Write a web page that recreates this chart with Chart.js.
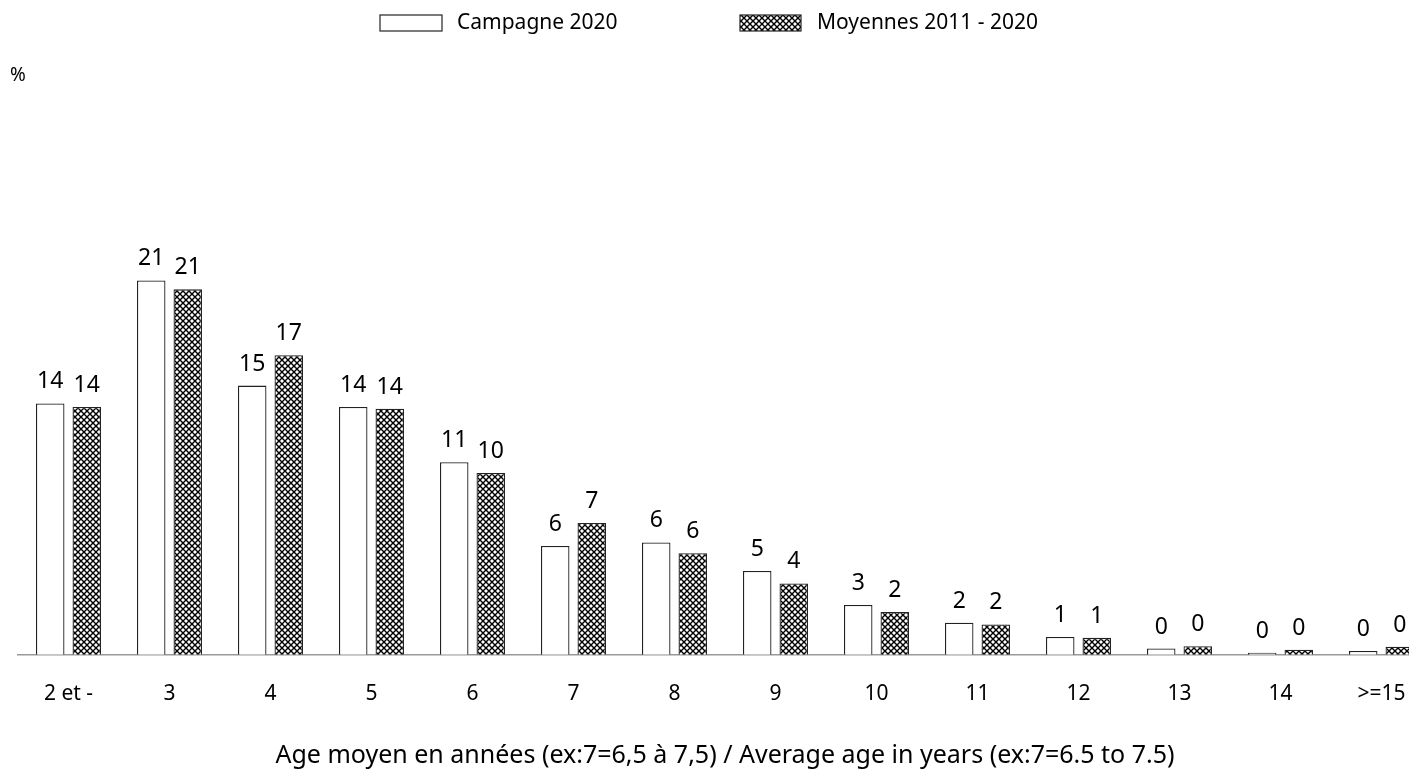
<!DOCTYPE html>
<html>
<head>
<meta charset="utf-8">
<script src="https://cdn.jsdelivr.net/npm/chart.js@4.4.1/dist/chart.umd.min.js"></script>
<style>
  html, body { margin: 0; padding: 0; background: #fff; overflow: hidden; }
  #wrap { width: 1440px; height: 771px; }
</style>
</head>
<body>
<div id="wrap"><canvas id="grafik" width="1440" height="771"></canvas></div>
<script>
// === DATA ===
const ages = ["2 et -", "3", "4", "5", "6", "7", "8", "9", "10", "11", "12", "13", "14", ">=15"];
const campagne2020 = [14.1, 21.0, 15.1, 13.9, 10.8, 6.1, 6.3, 4.7, 2.8, 1.8, 1.0, 0.35, 0.12, 0.22];
const moyennes = [13.9, 20.5, 16.8, 13.8, 10.2, 7.4, 5.7, 4.0, 2.4, 1.7, 0.95, 0.48, 0.28, 0.45];
const labelCampagne = "Campagne 2020";
const labelMoyennes = "Moyennes 2011 - 2020";
const axisTitle = "Age moyen en années (ex:7=6,5 à 7,5) / Average age in years (ex:7=6.5 to 7.5)";

const FONT = "'Noto Sans', 'Open Sans', sans-serif";

// motif quadrillé diagonal
function hachures() {
  const c = document.createElement("canvas");
  c.width = 6; c.height = 6;
  const g = c.getContext("2d");
  g.fillStyle = "#fff";
  g.fillRect(0, 0, 6, 6);
  g.strokeStyle = "#000";
  g.lineWidth = 1.4;
  g.beginPath();
  g.moveTo(0, 0); g.lineTo(6, 6);
  g.moveTo(6, 0); g.lineTo(0, 6);
  g.stroke();
  return g.createPattern(c, "repeat");
}
const motif = hachures();

// etiquettes + legende + "%"
const decor = {
  id: "decor",
  afterDatasetsDraw(chart) {
    const ctx = chart.ctx;
    ctx.save();
    ctx.fillStyle = "#000";
    ctx.font = "23px " + FONT;
    ctx.textAlign = "center";
    ctx.textBaseline = "alphabetic";
    chart.data.datasets.forEach((ds, i) => {
      chart.getDatasetMeta(i).data.forEach((bar, j) => {
        ctx.fillText(String(Math.round(ds.data[j])), bar.x, bar.y - 15);
      });
    });

    // legende
    ctx.lineWidth = 1.2;
    ctx.strokeStyle = "#222";
    ctx.fillStyle = "#fff";
    ctx.fillRect(380, 15, 62, 16);
    ctx.strokeRect(380, 15, 62, 16);
    ctx.fillStyle = motif;
    ctx.fillRect(740, 15, 61, 16);
    ctx.strokeRect(740, 15, 61, 16);
    ctx.fillStyle = "#000";
    ctx.font = "21px " + FONT;
    ctx.textAlign = "left";
    ctx.textBaseline = "middle";
    ctx.fillText(labelCampagne, 457, 23);
    ctx.fillText(labelMoyennes, 817, 23);

    ctx.font = "19px " + FONT;
    ctx.fillText("%", 10, 76);
    ctx.restore();
  }
};

new Chart(document.getElementById("grafik"), {
  type: "bar",
  data: {
    labels: ages,
    datasets: [{
      label: labelCampagne,
      data: campagne2020,
      backgroundColor: "#fff",
      borderColor: "#222",
      borderWidth: 1.3,
      categoryPercentage: 0.723,
      barPercentage: 0.78
    }, {
      label: labelMoyennes,
      data: moyennes,
      backgroundColor: motif,
      borderColor: "#222",
      borderWidth: 1.3,
      categoryPercentage: 0.723,
      barPercentage: 0.78
    }]
  },
  options: {
    responsive: false,
    animation: false,
    layout: { padding: { left: 18, right: 8, top: 120, bottom: 0 } },
    plugins: {
      legend: { display: false },
      tooltip: { enabled: false }
    },
    scales: {
      x: {
        grid: { display: false, drawTicks: false },
        border: { display: true, color: "#999", width: 1.5 },
        ticks: { color: "#000", font: { size: 21, family: FONT }, padding: 27, maxRotation: 0, autoSkip: false },
        title: { display: true, text: axisTitle, color: "#000", font: { size: 25, family: FONT }, padding: { top: 7, bottom: 0 } }
      },
      y: {
        display: false,
        min: 0,
        max: 30
      }
    }
  },
  plugins: [decor]
});
</script>
</body>
</html>
